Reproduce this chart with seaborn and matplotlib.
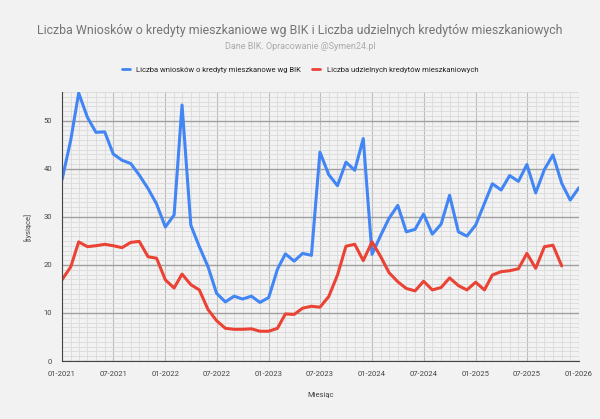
import pandas as pd
import numpy as np
import seaborn as sns
import matplotlib.pyplot as plt
import matplotlib.dates as mdates
from matplotlib.ticker import MultipleLocator

# monthly values, thousands
wnioski = [37.7, 46.0, 55.8, 50.7, 47.6, 47.7, 43.1, 41.8, 41.1, 38.7, 35.9, 32.7,
           27.9, 30.4, 53.3, 28.3, 23.8, 19.6, 14.1, 12.3, 13.5, 12.9, 13.5, 12.2,
           13.2, 19.1, 22.3, 20.8, 22.4, 22.0, 43.5, 38.8, 36.5, 41.4, 39.7, 46.3,
           22.2, 26.2, 29.7, 32.4, 26.9, 27.4, 30.6, 26.4, 28.5, 34.5, 26.9, 26.0,
           28.3, 32.8, 36.9, 35.6, 38.6, 37.4, 40.9, 35.0, 39.9, 42.9, 37.0, 33.5,
           36.1]
kredyty = [16.9, 19.6, 24.8, 23.8, 24.0, 24.3, 24.0, 23.6, 24.7, 24.9, 21.7, 21.4,
           16.9, 15.2, 18.1, 15.9, 14.8, 10.7, 8.4, 6.8, 6.6, 6.6, 6.7, 6.2,
           6.2, 6.8, 9.8, 9.7, 11.0, 11.4, 11.2, 13.4, 17.9, 23.9, 24.3, 20.9,
           24.8, 21.7, 18.4, 16.5, 15.1, 14.6, 16.6, 14.8, 15.3, 17.3, 15.7, 14.8,
           16.4, 14.8, 17.9, 18.6, 18.8, 19.2, 22.4, 19.3, 23.8, 24.1, 19.8]

label_w = "Liczba wniosków o kredyty mieszkanowe wg BIK"
label_k = "Liczba udzielnych kredytów mieszkaniowych"

miesiace = pd.date_range("2021-01-01", periods=len(wnioski), freq="MS")
df = pd.concat([
    pd.DataFrame({"Miesiąc": miesiace, "val": wnioski, "seria": label_w}),
    pd.DataFrame({"Miesiąc": miesiace[:len(kredyty)], "val": kredyty, "seria": label_k}),
])

bg = "#f2f2f2"
sns.set_style("white")
plt.rcParams["font.family"] = ["Roboto", "DejaVu Sans"]

fig = plt.figure(figsize=(6, 4.19), dpi=100, facecolor=bg)
ax = fig.add_axes([0.1033, 0.1384, 0.8617, 0.642])
ax.set_facecolor(bg)

sns.lineplot(data=df, x="Miesiąc", y="val", hue="seria",
             palette={label_w: "#4285f4", label_k: "#ea4335"},
             linewidth=2.2, ax=ax, legend=False)

ax.set_xlim(pd.Timestamp("2021-01-01"), pd.Timestamp("2026-01-01"))
ax.set_ylim(0, 56)

ax.xaxis.set_major_locator(mdates.MonthLocator(bymonth=[1, 7]))
ax.xaxis.set_major_formatter(mdates.DateFormatter("%m-%Y"))
ax.xaxis.set_minor_locator(mdates.MonthLocator())
ax.yaxis.set_major_locator(MultipleLocator(10))
ax.yaxis.set_minor_locator(MultipleLocator(1))

ax.grid(which="minor", axis="both", color="#d9d9d9", linewidth=0.6)
ax.grid(which="major", axis="x", color="#bdbdbd", linewidth=0.8)
ax.grid(which="major", axis="y", color="#a0a0a0", linewidth=1.0)
ax.set_axisbelow(True)

for s in ["top", "right"]:
    ax.spines[s].set_visible(False)
for s in ["left", "bottom"]:
    ax.spines[s].set_color("#444444")
    ax.spines[s].set_linewidth(0.8)

ax.tick_params(which="major", length=4, width=0.8, color="#444444",
               labelsize=5.5, labelcolor="#444444", pad=3)
ax.tick_params(which="minor", length=0)

ax.set_xlabel("Miesiąc", fontsize=5.5, color="#444444", labelpad=11)
ax.set_ylabel("[tysiące]", fontsize=5.5, color="#444444", labelpad=9)

fig.text(0.5, 0.928, "Liczba Wniosków o kredyty mieszkaniowe wg BIK i Liczba udzielnych kredytów mieszkaniowych",
         ha="center", va="center", fontsize=8.9, color="#757575")
fig.text(0.5, 0.888, "Dane BIK. Opracowanie @Symen24.pl",
         ha="center", va="center", fontsize=6.5, color="#aaaaaa")

handles = [plt.Line2D([], [], color="#4285f4", linewidth=2.0),
           plt.Line2D([], [], color="#ea4335", linewidth=2.0)]
fig.legend(handles, [label_w, label_k], loc="center", bbox_to_anchor=(0.5, 0.833),
           ncol=2, frameon=False, fontsize=5.5, handlelength=1.05,
           columnspacing=1.4, handletextpad=0.9, labelcolor="#222222")

fig.savefig("out.png", dpi=100, facecolor=bg)
